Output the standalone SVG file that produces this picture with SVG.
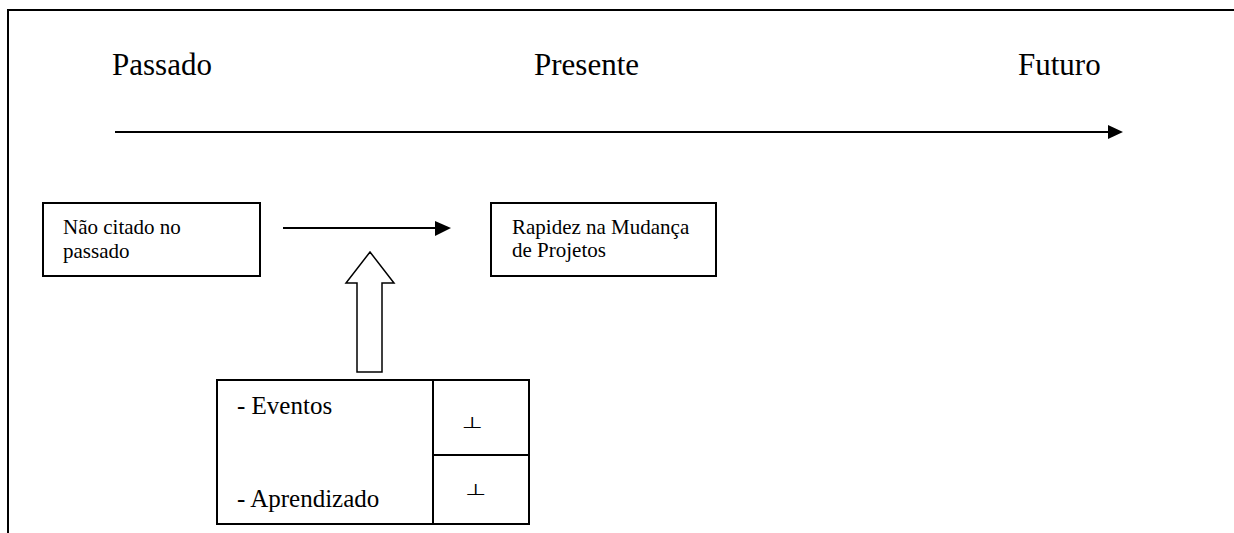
<svg xmlns="http://www.w3.org/2000/svg" width="1234" height="533" viewBox="0 0 1234 533">
<defs>
<style>
text.t{font-family:'Liberation Serif','Times New Roman','DejaVu Serif',serif;fill:#000}
.box{fill:#fff;stroke:#000;stroke-width:2}
.ln{stroke:#000;stroke-width:2;fill:none}
text.sym{font-family:'DejaVu Sans',sans-serif;fill:#000}
</style>
</defs>
<rect width="1234" height="533" fill="#fff"/>
<g id="frame">
<path class="ln" d="M8 533 V10 H1234"/>
</g>
<g id="timeline-labels" font-family="Liberation Serif, serif">
<text class="t" x="112" y="75" font-size="31">Passado</text>
<text class="t" x="534" y="75" font-size="31">Presente</text>
<text class="t" x="1018" y="75" font-size="31">Futuro</text>
</g>
<g id="node-passado" font-family="Liberation Serif, serif">
<rect class="box" x="43" y="203" width="217" height="73"/>
<text class="t" x="63" y="234" font-size="21">Não citado no</text>
<text class="t" x="63" y="258" font-size="21">passado</text>
</g>
<g id="node-rapidez" font-family="Liberation Serif, serif">
<rect class="box" x="491" y="203" width="225" height="73"/>
<text class="t" x="512" y="234" font-size="21">Rapidez na Mudança</text>
<text class="t" x="512" y="257" font-size="21">de Projetos</text>
</g>
<g id="node-fatores" font-family="Liberation Serif, serif">
<rect class="box" x="217" y="380" width="312" height="144"/>
<line class="ln" x1="433" y1="380" x2="433" y2="524"/>
<line class="ln" x1="433" y1="455" x2="529" y2="455"/>
<text class="t" x="237" y="414" font-size="25">- Eventos</text>
<text class="t" x="237" y="507" font-size="25">- Aprendizado</text>
<text class="sym" transform="translate(472.5,428) scale(1.1,0.72)" font-size="22" text-anchor="middle">⊥</text>
<text class="sym" transform="translate(476,495) scale(1.1,0.72)" font-size="22" text-anchor="middle">⊥</text>
</g>
<g id="connectors">
<line class="ln" x1="115" y1="132" x2="1109" y2="132"/>
<polygon points="1108,125 1123,132 1108,139" fill="#000"/>
<line class="ln" x1="283" y1="228" x2="436" y2="228"/>
<polygon points="435,221 451,228 435,236" fill="#000"/>
<polygon points="370,252 394,283 382,283 382,372 357,372 357,283 346,283" fill="#fff" stroke="#000" stroke-width="1.5"/>
</g>
</svg>
